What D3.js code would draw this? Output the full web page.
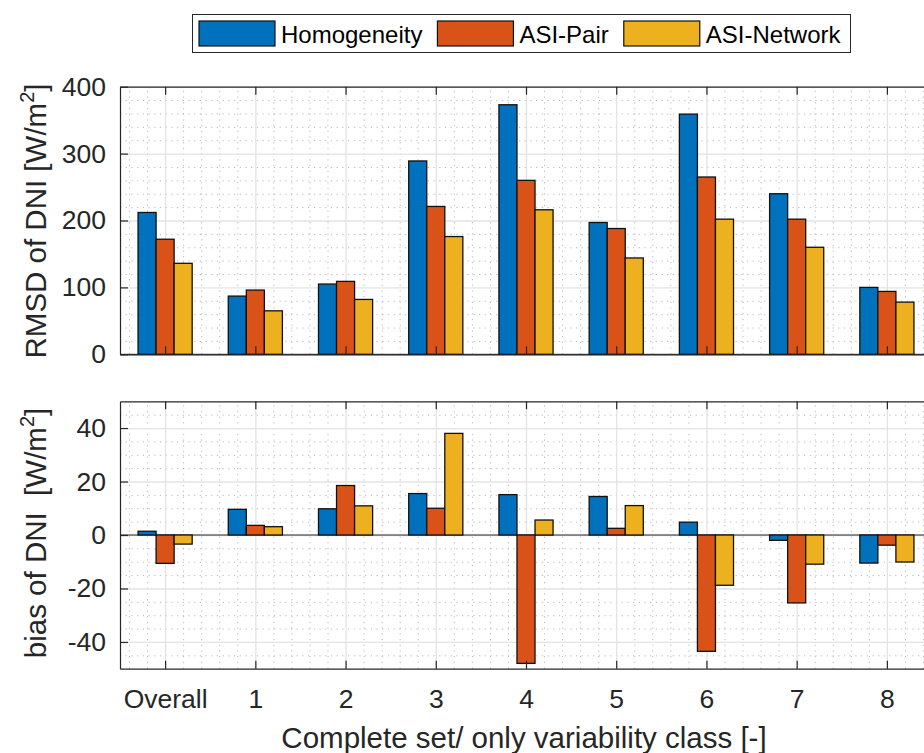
<!DOCTYPE html>
<html>
<head>
<meta charset="utf-8">
<script src="https://cdn.jsdelivr.net/npm/d3@7"></script>
<style>
  body { margin: 0; background: #fff; }
  svg { display: block; font-family: "Liberation Sans", Arial, Helvetica, sans-serif; }
</style>
</head>
<body>
<div id="chart"></div>
<script>
const categories = ['Overall', '1', '2', '3', '4', '5', '6', '7', '8'];
const seriesNames = ['Homogeneity', 'ASI-Pair', 'ASI-Network'];
const colors = ['#0072BD', '#D95319', '#EDB120'];

// RMSD of DNI [W/m2]
const rmsdHomogeneity = [212, 87, 105, 289, 373, 197, 359, 240, 100];
const rmsdAsiPair = [172, 96, 109, 221, 260, 188, 265, 202, 94];
const rmsdAsiNetwork = [136, 65, 82, 176, 216, 144, 202, 160, 78];

// bias of DNI [W/m2]
const biasHomogeneity = [1.4, 9.6, 9.8, 15.5, 15.1, 14.4, 4.8, -2.0, -10.5];
const biasAsiPair = [-10.6, 3.6, 18.5, 10.0, -48.0, 2.5, -43.5, -25.4, -3.8];
const biasAsiNetwork = [-3.4, 3.1, 10.9, 38.0, 5.6, 11.0, -18.8, -10.9, -10.1];

const rmsdTicks = [0, 100, 200, 300, 400];
const biasTicks = [-40, -20, 0, 20, 40];

const W = 924, H = 753;
const axisColor = '#262626';
const left = 120, right = 932;

const svg = d3.select('#chart').append('svg')
    .attr('width', W)
    .attr('height', H);

const x = d3.scaleLinear().domain([0.5, categories.length + 0.5]).range([left, right]);
const barW = 0.2;

const minorX = d3.range(0.6, categories.length + 0.5, 0.2).filter(v => Math.abs(v - Math.round(v)) > 0.05);

function drawPanel(top, bottom, domain, ticks, minorStep, series, showLabels) {
    const y = d3.scaleLinear().domain(domain).range([bottom, top]);
    const g = svg.append('g');
    const minorY = d3.range(domain[0] + minorStep, domain[1], minorStep)
        .filter(v => ticks.indexOf(Math.round(v)) < 0);

    // minor grid
    g.append('g')
        .attr('transform', 'translate(0,' + bottom + ')')
        .call(d3.axisBottom(x).tickValues(minorX).tickSize(-(bottom - top)).tickFormat(''))
        .call(a => a.select('.domain').remove())
        .selectAll('line').attr('stroke', '#b8b8b8').attr('stroke-dasharray', '1.2,4.5');
    g.append('g')
        .attr('transform', 'translate(' + left + ',0)')
        .call(d3.axisLeft(y).tickValues(minorY).tickSize(-(right - left)).tickFormat(''))
        .call(a => a.select('.domain').remove())
        .selectAll('line').attr('stroke', '#b8b8b8').attr('stroke-dasharray', '1.2,4.5');

    // major grid
    g.append('g')
        .attr('transform', 'translate(0,' + bottom + ')')
        .call(d3.axisBottom(x).tickValues(d3.range(1, categories.length + 1)).tickSize(-(bottom - top)).tickFormat(''))
        .call(a => a.select('.domain').remove())
        .selectAll('line').attr('stroke', '#e3e3e3').attr('stroke-width', 1.3);
    g.append('g')
        .attr('transform', 'translate(' + left + ',0)')
        .call(d3.axisLeft(y).tickValues(ticks).tickSize(-(right - left)).tickFormat(''))
        .call(a => a.select('.domain').remove())
        .selectAll('line').attr('stroke', '#e3e3e3').attr('stroke-width', 1.3);

    // baseline
    g.append('line')
        .attr('x1', left).attr('x2', right)
        .attr('y1', y(0)).attr('y2', y(0))
        .attr('stroke', axisColor).attr('stroke-width', 1);

    // bars
    series.forEach((vals, j) => {
        g.append('g').selectAll('rect')
            .data(vals)
            .join('rect')
            .attr('x', (d, i) => x(i + 1 + (j - 1) * barW - barW / 2))
            .attr('width', x(barW) - x(0))
            .attr('y', d => y(Math.max(0, d)))
            .attr('height', d => Math.abs(y(d) - y(0)))
            .attr('fill', colors[j])
            .attr('stroke', '#111')
            .attr('stroke-width', 1.3);
    });

    // axes (box with inward ticks)
    const xTicks = d3.range(1, categories.length + 1);
    g.append('g')
        .attr('transform', 'translate(0,' + bottom + ')')
        .call(d3.axisBottom(x).tickValues(xTicks).tickSizeInner(-8).tickSizeOuter(0).tickPadding(20.5)
            .tickFormat(showLabels ? (d => categories[d - 1]) : ''));
    g.append('g')
        .attr('transform', 'translate(0,' + top + ')')
        .call(d3.axisTop(x).tickValues(xTicks).tickSizeInner(-8).tickSizeOuter(0).tickFormat(''));
    g.append('g')
        .attr('transform', 'translate(' + left + ',0)')
        .call(d3.axisLeft(y).tickValues(ticks).tickSizeInner(-8).tickSizeOuter(0).tickPadding(14)
            .tickFormat(d => String(d)));
    g.append('g')
        .attr('transform', 'translate(' + right + ',0)')
        .call(d3.axisRight(y).tickValues(ticks).tickSizeInner(-8).tickSizeOuter(0).tickFormat(''));

    g.selectAll('.domain').attr('stroke', axisColor).attr('stroke-width', 1.2);
    g.selectAll('.tick line').filter(function () { return this.getAttribute('stroke') === 'currentColor'; })
        .attr('stroke', axisColor).attr('stroke-width', 1.2);
    g.selectAll('text')
        .attr('fill', axisColor)
        .style('font-size', '26.5px')
        .style('font-family', '"Liberation Sans", Arial, Helvetica, sans-serif');
    return y;
}

drawPanel(86.7, 354.3, [0, 400], rmsdTicks, 20,
    [rmsdHomogeneity, rmsdAsiPair, rmsdAsiNetwork], false);
drawPanel(401.3, 668.7, [-50, 50], biasTicks, 5,
    [biasHomogeneity, biasAsiPair, biasAsiNetwork], true);

// y labels
function yLabel(cy, text) {
    const t = svg.append('text')
        .attr('transform', 'translate(46,' + cy + ') rotate(-90)')
        .attr('text-anchor', 'middle')
        .attr('fill', axisColor)
        .style('font-size', '29.5px');
    t.append('tspan').text(text);
    t.append('tspan').attr('dy', -12).style('font-size', '20px').text('2');
    t.append('tspan').attr('dy', 12).text(']');
}
yLabel(221, 'RMSD of DNI [W/m');
yLabel(533, 'bias of DNI\u00a0\u00a0[W/m');

// x label
svg.append('text')
    .attr('x', (left + right) / 2 - 2)
    .attr('y', 748)
    .attr('text-anchor', 'middle')
    .attr('fill', axisColor)
    .style('font-size', '29.5px')
    .text('Complete set/ only variability class [-]');

// legend
const legend = svg.append('g');
const box = legend.append('rect')
    .attr('x', 192.5).attr('y', 14.5)
    .attr('height', 38)
    .attr('fill', '#fff')
    .attr('stroke', axisColor)
    .attr('stroke-width', 1);
let lx = 199;
seriesNames.forEach((name, j) => {
    legend.append('rect')
        .attr('x', lx).attr('y', 21)
        .attr('width', 76).attr('height', 25)
        .attr('fill', colors[j])
        .attr('stroke', '#111')
        .attr('stroke-width', 1.2);
    const t = legend.append('text')
        .attr('x', lx + 82).attr('y', 42.5)
        .attr('fill', '#000')
        .style('font-size', '24px')
        .text(name);
    lx += 82 + t.node().getComputedTextLength() + 15;
});
box.attr('width', lx - 15 + 10 - 192.5);
</script>
</body>
</html>
